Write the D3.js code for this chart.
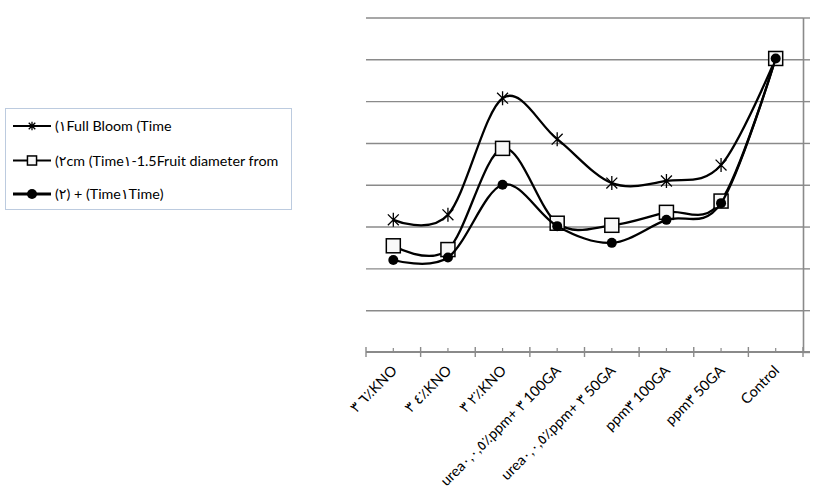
<!DOCTYPE html>
<html>
<head>
<meta charset="utf-8">
<script src="https://cdn.jsdelivr.net/npm/d3@7/dist/d3.min.js"></script>
<style>
  html, body { margin: 0; padding: 0; background: #fff; }
  svg { display: block; }
  text { font-family: Lato, "DejaVu Sans", sans-serif; direction: ltr; unicode-bidi: bidi-override; }
</style>
</head>
<body>
<svg id="chart" width="820" height="500"></svg>
<script>
const categories = [
  "٣ ٦٪KNO",
  "٣ ٤٪KNO",
  "٣ ٢٪KNO",
  "urea٠,٠,٥٪ppm+ ٣ 100GA",
  "urea٠,٠,٥٪ppm+ ٣ 50GA",
  "ppm٣ 100GA",
  "ppm٣ 50GA",
  "Control"
];
const seriesNames = [
  "(١Full Bloom (Time",
  "(٢cm (Time١-1.5Fruit diameter from",
  "(٢) + (Time١Time)"
];
const fullBloom = [3.16, 3.28, 6.07, 5.09, 4.04, 4.09, 4.47, 7.02];
const fruitDiameter = [2.54, 2.45, 4.87, 3.08, 3.03, 3.34, 3.61, 7.02];
const bothTimes = [2.20, 2.26, 4.00, 3.01, 2.61, 3.16, 3.56, 7.02];
const yTicks = [0, 1, 2, 3, 4, 5, 6, 7, 8];

const seriesList = [
  { name: seriesNames[0], values: fullBloom, marker: "star" },
  { name: seriesNames[1], values: fruitDiameter, marker: "square" },
  { name: seriesNames[2], values: bothTimes, marker: "circle" }
];

const svg = d3.select("#chart");
const L = 366, R = 803, T = 17.5, B = 352;
const gridColor = "#8a8a8a";

const x = d3.scaleBand().domain(categories).range([L, R]).padding(0);
const xb = d3.scaleLinear().domain([0, categories.length]).range([L, R]);
const y = d3.scaleLinear().domain([0, 8]).range([B, T]);
const cx = c => x(c) + x.bandwidth() / 2;

// gridlines (as left-pointing ticks of a right-side axis)
const grid = svg.append("g").attr("transform", `translate(${R},0)`)
  .call(d3.axisLeft(y).tickValues(yTicks.slice(1)).tickSize(R - L).tickFormat(""));
grid.select(".domain").remove();
grid.selectAll("line").attr("stroke", gridColor).attr("stroke-width", 1.4);

// right axis with outside ticks
const ra = svg.append("g").attr("transform", `translate(${R},0)`)
  .call(d3.axisRight(y).tickValues(yTicks).tickSize(7).tickSizeOuter(0).tickFormat(""));
ra.select(".domain").attr("stroke", gridColor).attr("stroke-width", 1.6);
ra.selectAll("line").attr("stroke", gridColor).attr("stroke-width", 1.4);

// bottom axis
svg.append("line").attr("x1", L).attr("x2", R + 7).attr("y1", B).attr("y2", B)
  .attr("stroke", gridColor).attr("stroke-width", 1.8);
svg.append("g").selectAll("line.maj").data(d3.range(categories.length + 1)).join("line")
  .attr("x1", d => xb(d)).attr("x2", d => xb(d)).attr("y1", B - 5).attr("y2", B + 5)
  .attr("stroke", gridColor).attr("stroke-width", 1.4);
svg.append("g").selectAll("line.min").data(categories).join("line")
  .attr("x1", d => cx(d)).attr("x2", d => cx(d)).attr("y1", B - 4).attr("y2", B)
  .attr("stroke", gridColor).attr("stroke-width", 1.2);

// category labels
svg.append("g").selectAll("text").data(categories).join("text")
  .attr("transform", d => `translate(${cx(d) + 1},${B + 16}) rotate(-45)`)
  .attr("text-anchor", "end")
  .attr("dy", "0.35em")
  .attr("font-size", 14.5)
  .attr("fill", "#000")
  .text(d => d);

// markers
const starPath = s => {
  const h = s / 2, d = h * 0.78;
  return `M0,${-h}V${h}M${-d},${-d}L${d},${d}M${-d},${d}L${d},${-d}`;
};
function drawMarker(g, type, scale) {
  const k = scale || 1;
  if (type === "star") {
    g.append("path").attr("d", starPath(14 * k)).attr("stroke", "#000")
      .attr("stroke-width", 1.3).attr("fill", "none");
  } else if (type === "square") {
    const s = 14 * k;
    g.append("rect").attr("x", -s / 2).attr("y", -s / 2).attr("width", s).attr("height", s)
      .attr("fill", "#f8f8f8").attr("stroke", "#000").attr("stroke-width", 1.5);
  } else {
    g.append("circle").attr("r", 5 * k).attr("fill", "#000");
  }
}

const line = d3.line().x(d => d.x).y(d => d.y).curve(d3.curveCardinal.tension(0));

seriesList.forEach(s => {
  const pts = s.values.map((v, i) => ({ x: cx(categories[i]), y: y(v) }));
  svg.append("path").attr("d", line(pts)).attr("fill", "none")
    .attr("stroke", "#000").attr("stroke-width", 2.3);
  pts.forEach(p => {
    const g = svg.append("g").attr("transform", `translate(${p.x},${p.y})`);
    drawMarker(g, s.marker);
  });
});

// legend
const lg = svg.append("g");
lg.append("rect").attr("x", 5.5).attr("y", 108.5).attr("width", 286).attr("height", 101)
  .attr("fill", "#fff").attr("stroke", "#bccbdf").attr("stroke-width", 1);
const rowsY = [126, 160.5, 194];
seriesList.forEach((s, i) => {
  const yy = rowsY[i];
  lg.append("line").attr("x1", 13).attr("x2", 51).attr("y1", yy).attr("y2", yy)
    .attr("stroke", "#000").attr("stroke-width", i === 2 ? 2.8 : 2);
  const g = lg.append("g").attr("transform", `translate(32,${yy})`);
  drawMarker(g, s.marker, i === 0 ? 0.6 : (i === 1 ? 0.65 : 1));
  lg.append("text").attr("x", 55).attr("y", yy).attr("dy", "0.36em")
    .attr("font-size", 14.3).attr("fill", "#000").text(s.name);
});
</script>
</body>
</html>
